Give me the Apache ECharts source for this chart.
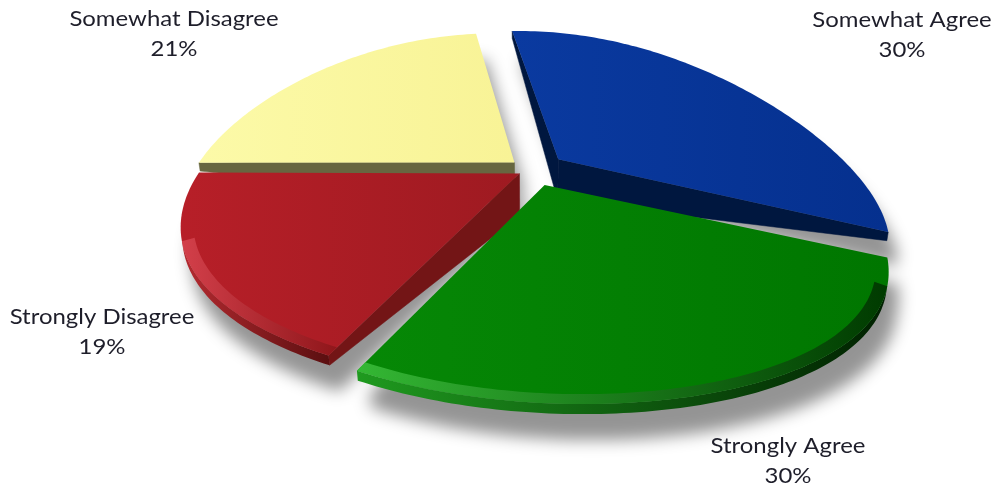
<!DOCTYPE html>
<html>
<head>
<meta charset="utf-8">
<script src="https://cdn.jsdelivr.net/npm/echarts@6/dist/echarts.min.js"></script>
<style>
  html, body { margin: 0; padding: 0; background: #ffffff; }
  #chart { width: 997px; height: 491px; }
</style>
</head>
<body>
<div id="chart"></div>
<script>
// ---- data ----
const categories = ['Somewhat Agree', 'Strongly Agree', 'Strongly Disagree', 'Somewhat Disagree'];
const shares = [30, 30, 19, 21];

// ---- styling ----
const faceColors = [['#0a3aa0', '#05308e'], ['#068806', '#007600'], ['#b71f28', '#9e1a21'], ['#fcfaa8', '#f8f396']];
const bevelColors = [['#2a4cae', '#001c68'], ['#3cc03c', '#003000'], ['#d84550', '#8a1519'], ['#fffdd0', '#d8d480']];
const sideColors = [['#062a80', '#001030'], ['#1f9a1f', '#002000'], ['#b52a30', '#5a0f10'], ['#c8c47a', '#6a6840']];
const cutColors = ['#00173f', '#004a00', '#731516', '#676640'];
const explode = [0.12, 0.09, 0.04, 0.07];
const labelAnchors = [[902, 35], [788, 461], [102, 332], [174, 34]];

// camera / pie geometry (unit radius pie, perspective view, with a slight
// downward bow towards the sides and a small clockwise lean)
const view = { cx: 531, cy: 171, f: 1245, dist: 3.8, tilt: 29.5, startAngle: -9,
  depth: 0.15, rimDepth: 0.03, bow: 28, lean: 16 };

const rad = d => d * Math.PI / 180;
const sinT = Math.sin(rad(view.tilt));
const cosT = Math.cos(rad(view.tilt));

function project(u, v, y) {
  const yc = y * cosT + v * sinT;
  const zc = view.dist + v * cosT - y * sinT;
  return [view.cx + view.f * u / zc, view.cy - view.f * yc / zc + view.bow * u * u + view.lean * u];
}

const total = shares.reduce((a, b) => a + b, 0);

function sliceGeom(i, value) {
  const before = shares.slice(0, i).reduce((a, b) => a + b, 0);
  const a0 = view.startAngle + before / total * 360;
  const a1 = a0 + value / total * 360;
  const mid = (a0 + a1) / 2;
  return { a0, a1, mid, ox: explode[i] * Math.sin(rad(mid)), ov: explode[i] * Math.cos(rad(mid)) };
}

function pt(g, th, r, y) {
  const t = rad(th);
  return project(r * Math.sin(t) + g.ox, r * Math.cos(t) + g.ov, y);
}

function arc(g, from, to, r, y) {
  const n = Math.max(2, Math.ceil(Math.abs(to - from) / 1));
  const pts = [];
  for (let k = 0; k <= n; k++) pts.push(pt(g, from + (to - from) * k / n, r, y));
  return pts;
}

// camera position in (u, y, v)
const cam = [0, view.dist * sinT, -view.dist * cosT];

function rimVisible(g, th) {
  const t = rad(th);
  const u = Math.sin(t) + g.ox, v = Math.cos(t) + g.ov;
  return (cam[0] - u) * Math.sin(t) + (cam[2] - v) * Math.cos(t) > 0;
}

function visibleRuns(g) {
  const runs = [];
  const step = 0.5;
  let start = null;
  for (let th = g.a0; th <= g.a1 + 1e-9; th += step) {
    const vis = rimVisible(g, Math.min(th, g.a1));
    if (vis && start === null) start = th;
    if (!vis && start !== null) { runs.push([start, th - step]); start = null; }
  }
  if (start !== null) runs.push([start, g.a1]);
  return runs.filter(r => r[1] - r[0] > 0.5);
}

function cutVisible(g, a, isEnd) {
  const t = rad(a);
  const nu = isEnd ? Math.cos(t) : -Math.cos(t);
  const nv = isEnd ? -Math.sin(t) : Math.sin(t);
  return (cam[0] - g.ox) * nu + (cam[2] - g.ov) * nv > 0;
}

function hGrad(pts, c0, c1) {
  let lo = Infinity, hi = -Infinity;
  pts.forEach(p => { lo = Math.min(lo, p[0]); hi = Math.max(hi, p[0]); });
  return { type: 'linear', x: lo, y: 0, x2: hi, y2: 0, global: true,
    colorStops: [{ offset: 0, color: c0 }, { offset: 1, color: c1 }] };
}

// back slices are painted first
const depthOrder = shares.map((v, i) => [i, Math.cos(rad(sliceGeom(i, v).mid))])
  .sort((a, b) => b[1] - a[1]).map(d => d[0]);

function renderSlice(params, api) {
  const i = params.dataIndex;
  const g = sliceGeom(i, api.value(1));
  const base = depthOrder.indexOf(i) * 10;
  const children = [];
  const center = pt(g, g.a0, 0, 0);

  // cut faces (deep at the centre, thin at the rounded rim)
  [[g.a0, false], [g.a1, true]].forEach(([a, isEnd]) => {
    if (!cutVisible(g, a, isEnd)) return;
    const poly = [pt(g, a, 0, 0), pt(g, a, 1, 0), pt(g, a, 1, -view.rimDepth), pt(g, a, 0, -view.depth)];
    children.push({ type: 'polygon', z2: base + 1, shape: { points: poly },
      style: { fill: cutColors[i], stroke: cutColors[i], lineWidth: 0.5 } });
  });

  const runs = visibleRuns(g);
  // outer wall
  runs.forEach(([t0, t1]) => {
    const poly = arc(g, t0, t1, 1, 0).concat(arc(g, t1, t0, 1, -view.rimDepth));
    children.push({ type: 'polygon', z2: base + 2, shape: { points: poly },
      style: { fill: hGrad(poly, sideColors[i][0], sideColors[i][1]) } });
  });

  // top face
  const top = [center].concat(arc(g, g.a0, g.a1, 1, 0));
  children.push({ type: 'polygon', z2: base + 3, shape: { points: top },
    style: { fill: hGrad(top, faceColors[i][0], faceColors[i][1]) } });

  // rounded rim highlight along the front edge
  runs.forEach(([t0, t1]) => {
    const band = arc(g, t0, t1, 1, 0).concat(arc(g, t1, t0, 0.965, 0));
    children.push({ type: 'polygon', z2: base + 4, shape: { points: band },
      style: { fill: hGrad(band, bevelColors[i][0], bevelColors[i][1]), opacity: 0.85 } });
  });

  // data label
  const pct = Math.round(api.value(1) / total * 100);
  children.push({ type: 'text', z2: 100, x: labelAnchors[i][0], y: labelAnchors[i][1], scaleX: 1.14,
    style: { text: categories[i] + '\n' + pct + '%', x: 0, y: 0,
      align: 'center', verticalAlign: 'middle', fill: '#1e1e2a', font: '21px Lato', lineHeight: 30 } });

  return { type: 'group', children };
}

// soft drop shadow: silhouettes drawn off-canvas, only their blurred shadow lands on the chart
const SHIFT = 3000;
function renderShadow() {
  let d = '';
  shares.forEach((v, i) => {
    const g = sliceGeom(i, v);
    [0, -view.rimDepth].forEach(y => {
      const poly = [pt(g, g.a0, 0, y)].concat(arc(g, g.a0, g.a1, 1, y));
      d += 'M' + poly.map(p => (p[0] - SHIFT).toFixed(1) + ',' + p[1].toFixed(1)).join('L') + 'Z';
    });
  });
  return { type: 'path', shape: { pathData: d },
    style: { fill: '#000', shadowColor: 'rgba(0,0,0,0.42)', shadowBlur: 16, shadowOffsetX: SHIFT + 10, shadowOffsetY: 26 } };
}

const chart = echarts.init(document.getElementById('chart'), null, { renderer: 'canvas' });
chart.setOption({
  animation: false,
  backgroundColor: '#ffffff',
  series: [
    { type: 'custom', coordinateSystem: 'none', z: 1, silent: true, data: [[0]], renderItem: renderShadow },
    { type: 'custom', coordinateSystem: 'none', z: 2, silent: true,
      data: shares.map((v, i) => [i, v]), renderItem: renderSlice }
  ]
});
</script>
</body>
</html>
